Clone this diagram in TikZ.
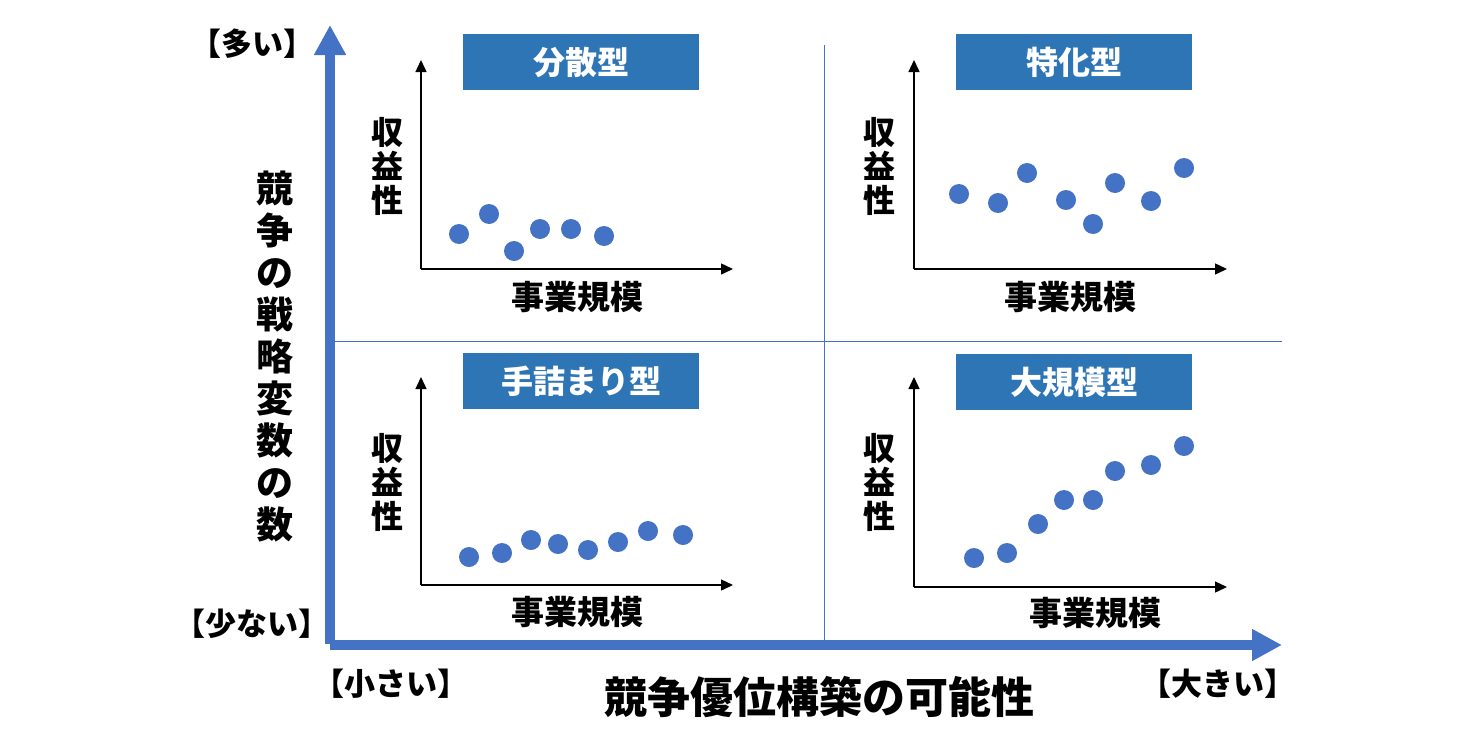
\documentclass[tikz,border=0pt]{standalone}
\usepackage{fontspec}
\setmainfont{Noto Sans CJK JP}
\usetikzlibrary{arrows.meta}
\definecolor{dotblue}{HTML}{4472C4}
\definecolor{boxblue}{HTML}{2E75B6}
\tikzset{
  px/.style={x=1pt,y=-1pt},
  bigarrow/.style={draw=dotblue,line width=9.5pt,-{Triangle[length=30pt,width=30pt]}},
  divider/.style={draw=dotblue,line width=0.9pt},
  smallaxis/.style={draw=black,line width=1.4pt,-{Triangle[length=12pt,width=11pt]}},
  dot/.style={circle,fill=dotblue,minimum size=20pt,inner sep=0pt},
  titlebox/.style={fill=boxblue,text=white,minimum width=236pt,minimum height=56pt,inner sep=0pt,font=\fontsize{32}{36}\selectfont\bfseries},
  axlabel/.style={inner sep=0pt,font=\fontsize{33}{36}\selectfont\bfseries},
  vlabel/.style={inner sep=0pt,align=center,font=\fontsize{32}{34}\selectfont\bfseries},
  corner/.style={inner sep=0pt,font=\fontsize{31}{34}\selectfont\bfseries},
  bigtitle/.style={inner sep=0pt,font=\fontsize{43}{48}\selectfont\bfseries},
  vtitle/.style={inner sep=0pt,align=center,font=\fontsize{37}{42}\selectfont\bfseries},
}
\begin{document}
\begin{tikzpicture}[px]
\useasboundingbox (0,0) rectangle (1474,736);
% dividers
\coordinate (dvt) at (824,45);
\coordinate (dvb) at (824,640);
\coordinate (dhl) at (335,341);
\coordinate (dhr) at (1282,341);
\draw[divider] (dvt) -- (dvb);
\draw[divider] (dhl) -- (dhr);
% big axes
\coordinate (O) at (330,645);
\coordinate (Ov) at (330,644);
\coordinate (Ytip) at (330,25);
\coordinate (Xtip) at (1282,645);
\draw[bigarrow] (Ov) -- (Ytip);
\draw[bigarrow] (O) -- (Xtip);
% title boxes
\node[titlebox] (t1) at (581,62) {分散型};
\node[titlebox] (t2) at (1074,62) {特化型};
\node[titlebox] (t3) at (581,381) {手詰まり型};
\node[titlebox] (t4) at (1074,382) {大規模型};
% small axes
\coordinate (o1) at (421,269); \coordinate (y1) at (421,60); \coordinate (x1) at (733,269);
\coordinate (o2) at (914,269); \coordinate (y2) at (914,60); \coordinate (x2) at (1227,269);
\coordinate (o3) at (421,585); \coordinate (y3) at (421,377); \coordinate (x3) at (733,585);
\coordinate (o4) at (914,587); \coordinate (y4) at (914,377); \coordinate (x4) at (1227,587);
\foreach \i in {1,2,3,4}{
  \draw[smallaxis] (o\i) -- (y\i);
  \draw[smallaxis] (o\i) -- (x\i);
}
% axis labels
\node[vlabel] (v1) at (387,166) {収\\益\\性};
\node[vlabel] (v2) at (879,166) {収\\益\\性};
\node[vlabel] (v3) at (387,482) {収\\益\\性};
\node[vlabel] (v4) at (879,482) {収\\益\\性};
\node[axlabel] (h1) at (577,297) {事業規模};
\node[axlabel] (h2) at (1070,297) {事業規模};
\node[axlabel] (h3) at (577,612) {事業規模};
\node[axlabel] (h4) at (1095,613) {事業規模};
% dots
\foreach \x/\y [count=\n] in {459/234,489/214,514/251,540/229,571/229,604/236}
  \node[dot] (a\n) at (\x,\y) {};
\foreach \x/\y [count=\n] in {959/194,998/203,1027/173,1066/200,1093/224,1115/183,1151/201,1184/168}
  \node[dot] (b\n) at (\x,\y) {};
\foreach \x/\y [count=\n] in {469/557,502/553,531/540,558/544,588/550,618/542,648/531,683/535}
  \node[dot] (c\n) at (\x,\y) {};
\foreach \x/\y [count=\n] in {974/558,1007/553,1038/524,1064/500,1093/500,1115/471,1151/465,1184/446}
  \node[dot] (d\n) at (\x,\y) {};
% corner labels
\node[corner] (many) at (252,44) {【多い】};
\node[corner] (few) at (252,624) {【少ない】};
\node[corner] (small) at (391,684) {【小さい】};
\node[corner] (large) at (1218,684) {【大きい】};
% main titles
\node[bigtitle] (xt) at (819,697) {競争優位構築の可能性};
\node[vtitle] (yt) at (275,357) {競\\争\\の\\戦\\略\\変\\数\\の\\数};
\end{tikzpicture}
\end{document}
